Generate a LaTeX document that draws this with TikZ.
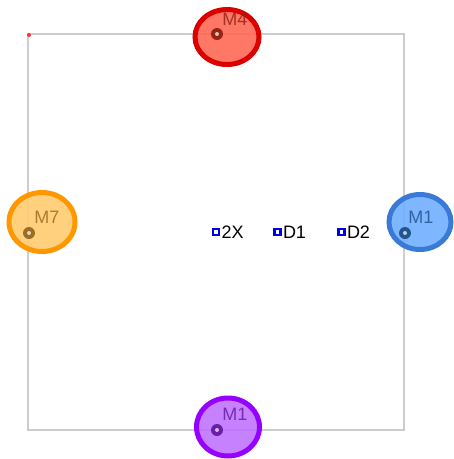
\documentclass[tikz,border=0pt]{standalone}
\usepackage{fontspec}
\setmainfont{Liberation Sans}
\usetikzlibrary{shapes.geometric}

\definecolor{framegray}{RGB}{205,205,205}
\definecolor{redline}{RGB}{220,0,0}
\definecolor{redfill}{RGB}{255,104,84}
\definecolor{reddot}{RGB}{150,35,20}
\definecolor{orangeline}{RGB}{255,152,0}
\definecolor{orangefill}{RGB}{255,204,112}
\definecolor{orangedot}{RGB}{155,110,35}
\definecolor{blueline}{RGB}{58,122,215}
\definecolor{bluefill}{RGB}{112,174,255}
\definecolor{bluedot}{RGB}{35,85,145}
\definecolor{purpleline}{RGB}{150,0,255}
\definecolor{purplefill}{RGB}{192,115,255}
\definecolor{purpledot}{RGB}{105,30,165}
\definecolor{dblue}{RGB}{0,0,230}

\tikzset{
	marker/.style={ellipse, line width=5, fill opacity=0.9, inner sep=0,
		minimum width=64, minimum height=55},
	mlabel/.style={font=\fontsize{18}{18}\selectfont, inner sep=0, opacity=0.85},
	dmark/.style={draw=dblue, fill=white, line width=2.6, minimum size=6, inner sep=0},
	dlabel/.style={font=\fontsize{18}{18}\selectfont, inner sep=1, anchor=west}
}

\newcommand{\pin}[2]{%
	\fill[#2] #1 circle (6);
	\fill[white, opacity=0.7] #1 circle (2);
}

\begin{document}
\begin{tikzpicture}[x=1pt, y=-1pt]
	\useasboundingbox (0,0) rectangle (454,459);
	\draw [framegray, line width=1.5] (28,34) rectangle (404,430);
	\fill [red!80] (29,35) circle (2);

	\node [marker, draw=redline, fill=redfill] (m4) at (227,37) {};
	\pin{(217,34)}{reddot}
	\node [mlabel, text=reddot] (m4text) at (235,19) {M4};

	\node [marker, draw=orangeline, fill=orangefill, minimum width=66, minimum height=59] (m7) at (42,222) {};
	\pin{(29,233)}{orangedot}
	\node [mlabel, text=orangedot] (m7text) at (47,217) {M7};

	\node [marker, draw=blueline, fill=bluefill, minimum width=62, minimum height=55] (m1a) at (420,222) {};
	\pin{(405,233)}{bluedot}
	\node [mlabel, text=bluedot] (m1atext) at (421,217) {M1};

	\node [marker, draw=purpleline, fill=purplefill, minimum width=63, minimum height=58] (m1b) at (228,427) {};
	\pin{(217,430)}{purpledot}
	\node [mlabel, text=purpledot] (m1btext) at (235,414) {M1};

	\node [dmark] (d2x) at (216,232) {};
	\node [dlabel] (t2x) at (d2x.east) {2X};
	\node [dmark] (dd1) at (277.5,232) {};
	\node [dlabel] (td1) at (dd1.east) {D1};
	\node [dmark] (dd2) at (341.5,232) {};
	\node [dlabel] (td2) at (dd2.east) {D2};
\end{tikzpicture}
\end{document}
